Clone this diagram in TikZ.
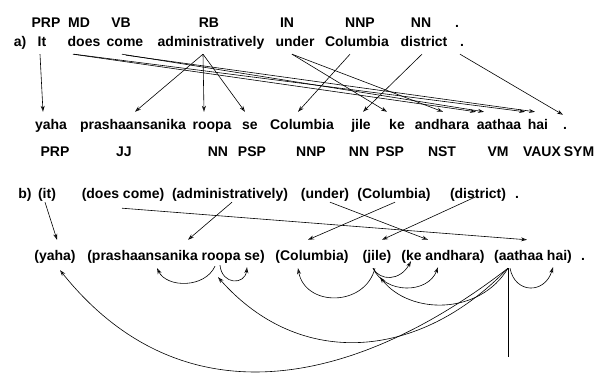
\documentclass[tikz,border=0pt]{standalone}
\usepackage{fontspec}
\setmainfont{Liberation Sans}
\usetikzlibrary{arrows.meta,calc}
\tikzset{
  word/.style={
    font=\fontsize{14}{16}\selectfont\bfseries,
    inner sep=0pt,
    anchor=base,
    text height=10pt,
    text depth=3pt
  },
  tag/.style={word},
  srcword/.style={word,text depth=7pt},
  tgtword/.style={word,text height=18pt},
  srcphrase/.style={word,text depth=3pt},
  tgtphrase/.style={word,text height=21pt,text depth=6pt},
  link/.style={-{Stealth[length=6pt,width=4pt,open]},line width=0.6pt},
  root/.style={line width=0.6pt}
}

\begin{document}
\begin{tikzpicture}[x=1pt,y=-1pt]
    \useasboundingbox (0,0) rectangle (603,374);

    % a) English tags and words
    \node[tag] (aTagPRP) at (46,28) {PRP};
    \node[tag] (aTagMD) at (79,28) {MD};
    \node[tag] (aTagVB) at (121,28) {VB};
    \node[tag] (aTagRB) at (209,28) {RB};
    \node[tag] (aTagIN) at (287,28) {IN};
    \node[tag] (aTagNNP) at (360,28) {NNP};
    \node[tag] (aTagNN) at (421,28) {NN};
    \node[tag] (aTagDot) at (457,28) {.};

    \node[word] (aLabel) at (20,47) {a)};
    \node[srcword] (aIt) at (42,47) {It};
    \node[srcword] (aDoes) at (84,47) {does};
    \node[srcword] (aCome) at (125,47) {come};
    \node[srcword] (aAdmin) at (211,47) {administratively};
    \node[srcword] (aUnder) at (295,47) {under};
    \node[srcword] (aColumbia) at (357,47) {Columbia};
    \node[srcword] (aDistrict) at (424,47) {district};
    \node[srcword] (aDot) at (462,47) {.};

    % a) Hindi words and tags
    \node[tgtword] (hYaha) at (51,130) {yaha};
    \node[tgtword] (hPras) at (133,130) {prashaansanika};
    \node[tgtword] (hRoopa) at (212,130) {roopa};
    \node[tgtword] (hSe) at (250,130) {se};
    \node[tgtword] (hColumbia) at (302,130) {Columbia};
    \node[tgtword] (hJile) at (361,130) {jile};
    \node[tgtword] (hKe) at (397,130) {ke};
    \node[tgtword] (hAndhara) at (442,130) {andhara};
    \node[tgtword] (hAathaa) at (499,130) {aathaa};
    \node[tgtword] (hHai) at (538,130) {hai};
    \node[tgtword] (hDot) at (565,130) {.};

    \node[tag] (hTagPRP) at (55,157) {PRP};
    \node[tag] (hTagJJ) at (124,157) {JJ};
    \node[tag] (hTagNN) at (218,157) {NN};
    \node[tag] (hTagPSP) at (252,157) {PSP};
    \node[tag] (hTagNNP) at (311,157) {NNP};
    \node[tag] (hTagNNb) at (359,157) {NN};
    \node[tag] (hTagPSPb) at (390,157) {PSP};
    \node[tag] (hTagNST) at (442,157) {NST};
    \node[tag] (hTagVM) at (498,157) {VM};
    \node[tag] (hTagVAUX) at (542,157) {VAUX};
    \node[tag] (hTagSYM) at (579,157) {SYM};

    \draw[link] ($(aIt.south)+(-2,0)$) -- ($(hYaha.north)+(-8,0)$);
    \draw[link] ($(aAdmin.south)+(-8,0)$) -- ($(hPras.north)+(2,0)$);
    \draw[link] ($(aAdmin.south)+(-8,0)$) -- ($(hRoopa.north)+(-8,0)$);
    \draw[link] ($(aAdmin.south)+(-8,0)$) -- ($(hSe.north)+(-5,0)$);
    \draw[link] ($(aDoes.south)+(-11,0)$) -- ($(hAathaa.north)+(-23,0)$);
    \draw[link] ($(aDoes.south)+(-10,0)$) -- ($(hHai.north)+(-13,0)$);
    \draw[link] ($(aCome.south)+(-3,0)$) -- ($(hAathaa.north)+(-15,0)$);
    \draw[link] ($(aCome.south)+(1,1)$) -- ($(hHai.north)+(-3,0)$);
    \draw[link] ($(aUnder.south)+(-3,0)$) -- ($(hKe.north)+(-10,0)$);
    \draw[link] ($(aUnder.south)+(-3,0)$) -- ($(hAndhara.north)+(1,0)$);
    \draw[link] ($(aColumbia.south)+(-7,0)$) -- ($(hColumbia.north)+(-4,0)$);
    \draw[link] ($(aDistrict.south)+(-2,0)$) -- ($(hJile.north)+(2,0)$);
    \draw[link] ($(aDot.south)+(-2,0)$) -- ($(hDot.north)+(-2,3)$);

    % b) phrase alignment
    \node[word] (bLabel) at (25,199) {b)};
    \node[srcphrase] (bIt) at (47,199) {(it)};
    \node[srcphrase] (bDoesCome) at (123,199) {(does come)};
    \node[srcphrase] (bAdmin) at (230,199) {(administratively)};
    \node[srcphrase] (bUnder) at (325,199) {(under)};
    \node[srcphrase] (bColumbia) at (394,199) {(Columbia)};
    \node[srcphrase] (bDistrict) at (478,199) {(district)};
    \node[srcphrase] (bDot) at (517,199) {.};

    \node[tgtphrase] (tYaha) at (55,261) {(yaha)};
    \node[tgtphrase] (tPras) at (176,261) {(prashaansanika roopa se)};
    \node[tgtphrase] (tColumbia) at (312,261) {(Columbia)};
    \node[tgtphrase] (tJile) at (377,261) {(jile)};
    \node[tgtphrase] (tKeAndhara) at (443,261) {(ke andhara)};
    \node[tgtphrase] (tAathaaHai) at (533,261) {(aathaa hai)};
    \node[tgtphrase] (tDot) at (583,261) {.};

    \draw[link] ($(bIt.south)+(-2,0)$) -- ($(tYaha.north)+(2,0)$);
    \draw[link] ($(bDoesCome.south)+(-1,6)$) -- ($(tAathaaHai.north)+(-6,0)$);
    \draw[link] ($(bAdmin.south)+(2,0)$) -- ($(tPras.north)+(12,0)$);
    \draw[link] ($(bUnder.south)+(5,0)$) -- ($(tKeAndhara.north)+(-15,0)$);
    \draw[link] ($(bColumbia.south)+(1,0)$) -- ($(tColumbia.north)+(-4,0)$);
    \draw[link] ($(bDistrict.south)+(-1,-6)$) -- ($(tJile.north)+(5,0)$);

    % dependency arcs below the Hindi phrases
    \draw[link] ($(tPras.south)+(39,-1)$) .. controls +(-10,22) and +(10,20) .. ($(tPras.south)+(-19,1)$);
    \draw[link] ($(tPras.south)+(44,-2)$) .. controls +(2,20) and +(-2,18) .. ($(tPras.south)+(71,0)$);
    \draw[link] ($(tAathaaHai.south)+(-25,1)$) .. controls +(-158,122) and +(120,150) .. ($(tYaha.south)+(5,3)$);
    \draw[link] ($(tAathaaHai.south)+(-25,1)$) .. controls +(-88,92) and +(82,93) .. ($(tPras.south)+(42,10)$);
    \draw[link] ($(tAathaaHai.south)+(-25,1)$) .. controls +(-28,47) and +(30,38) .. ($(tJile.south)+(3,10)$);
    \draw[link] ($(tJile.south)+(-2,1)$) .. controls +(-10,39) and +(7,39) .. ($(tColumbia.south)+(-14,1)$);
    \draw[link] ($(tJile.south)+(-4,1)$) .. controls +(7,13) and +(-11,20) .. ($(tKeAndhara.south)+(-32,-6)$);
    \draw[link] ($(tJile.south)+(-4,1)$) .. controls +(12,26) and +(-10,27) .. ($(tKeAndhara.south)+(-5,0)$);
    \draw[link] ($(tAathaaHai.south)+(-23,1)$) .. controls +(5,26) and +(-8,27) .. ($(tAathaaHai.south)+(20,0)$);
    \coordinate (rootEnd) at (508,357);
    \draw[root] ($(tAathaaHai.south)+(-25,1)$) -- (rootEnd);
\end{tikzpicture}
\end{document}
